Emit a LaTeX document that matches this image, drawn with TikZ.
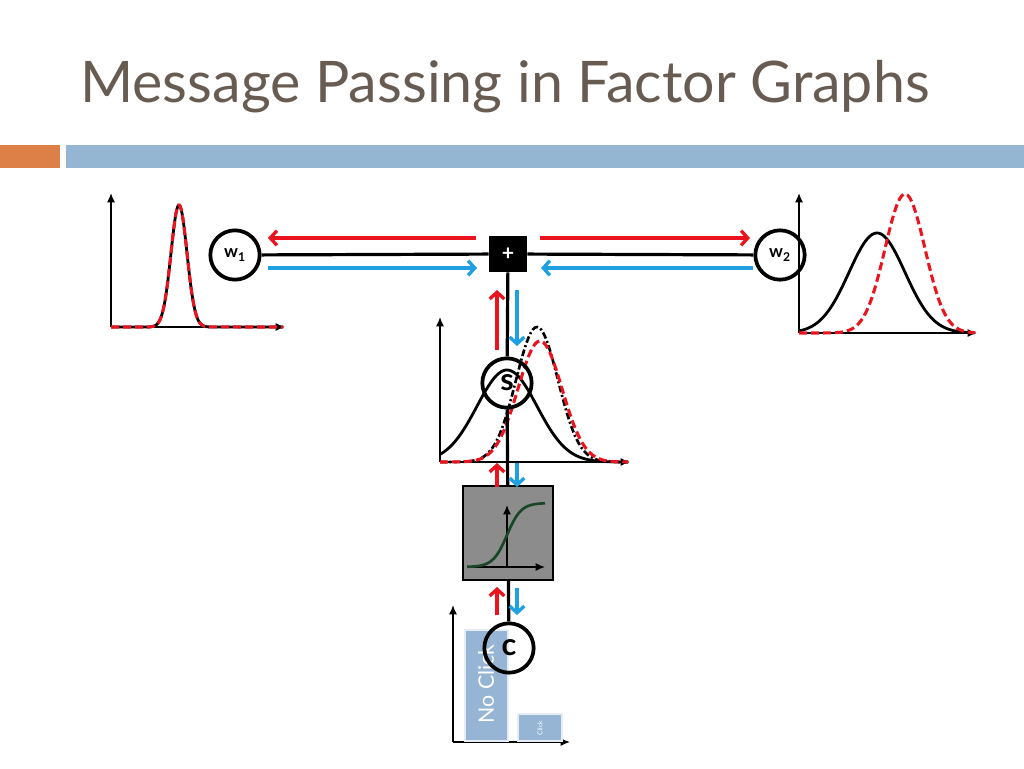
\documentclass[tikz,border=0pt]{standalone}
\usepackage{fontspec}
\setmainfont{Lato}
\usetikzlibrary{arrows.meta}
\definecolor{titlec}{RGB}{104,92,82}
\definecolor{barorange}{RGB}{221,128,71}
\definecolor{barblue}{RGB}{148,182,210}
\definecolor{msgred}{RGB}{235,20,30}
\definecolor{msgblue}{RGB}{30,160,225}
\definecolor{sigg}{RGB}{25,70,40}
\definecolor{boxgray}{RGB}{140,140,140}
\definecolor{barfill}{RGB}{150,180,212}
\tikzset{
  varnode/.style={circle,draw=black,line width=2.8pt,minimum size=37pt,inner sep=0pt,font=\bfseries},
  wvar/.style={varnode,font=\bfseries\fontsize{13}{13}\selectfont},
  bigvar/.style={varnode,font=\bfseries\fontsize{23}{23}\selectfont},
  wire/.style={line width=2.4pt},
  msgr/.style={draw=msgred,line width=2.5pt,-{Straight Barb[length=5pt,width=11pt]}},
  msgb/.style={draw=msgblue,line width=2.5pt,-{Straight Barb[length=5pt,width=11pt]}},
  axis/.style={line width=1.1pt,-{Latex[length=7pt,width=6pt]}},
  solidcurve/.style={line width=2.1pt,black},
  reddash/.style={line width=2.3pt,msgred,dash pattern=on 6pt off 3pt},
  dashdot/.style={line width=2pt,black,dash pattern=on 5pt off 2pt on 1.5pt off 2pt},
  barrect/.style={fill=barfill,draw=white!75!barfill,line width=1pt}
}
\begin{document}
\begin{tikzpicture}[x=0.75pt,y=-0.75pt]
\useasboundingbox (0,0) rectangle (1024,768);
\fill[white] (0,0) rectangle (1024,768);
% title and header bars
\node[anchor=base west,inner sep=0pt,text=titlec,font=\fontsize{43}{50}\selectfont] (title) at (80,102) {Message Passing in Factor Graphs};
\fill[barorange] (0,145) rectangle (60,168);
\fill[barblue] (66,145) rectangle (1024,168);

% ---------- left plot (w1) ----------
\draw[axis] (111,327) -- (111,193);
\draw[axis] (111,327) -- (285,327);
\draw[solidcurve] (111,327) -- (148,327) -- plot[domain=148:210,samples=70] (\x,{327-122*exp(-0.5*((\x-179)/8)^2)}) -- (283,327);
\draw[reddash] (111,327) -- (148,327) -- plot[domain=148:210,samples=70] (\x,{327-122*exp(-0.5*((\x-179)/8)^2)}) -- (283,327);

% ---------- right plot (w2) ----------
\draw[axis] (799,333) -- (799,193);
\draw[axis] (799,333) -- (977,333);
\draw[solidcurve] plot[domain=799:975,samples=90] (\x,{333-100*exp(-0.5*((\x-877)/28)^2)});
\draw[reddash] plot[domain=799:975,samples=90] (\x,{333-139*exp(-0.5*((\x-905)/20)^2)});

% ---------- middle plot (s) ----------
\draw[axis] (440,462) -- (440,317);
\draw[axis] (440,462) -- (630,462);
\draw[solidcurve] plot[domain=440:628,samples=90] (\x,{462-92*exp(-0.5*((\x-507)/30)^2)});
\draw[dashdot] plot[domain=440:628,samples=90] (\x,{462-135*exp(-0.5*((\x-537)/21)^2)});
\draw[reddash] plot[domain=440:628,samples=90] (\x,{462-121*exp(-0.5*((\x-540)/22)^2)});

% ---------- bar chart (c) ----------
\draw[axis] (453,742) -- (453,605);
\draw[axis] (453,742) -- (570,742);
\draw[barrect] (465,630) rectangle (508,741);
\draw[barrect] (518,714) rectangle (562,741);
\node[rotate=90,text=white,font=\fontsize{16}{16}\selectfont,inner sep=0pt] (noclick) at (486,684) {No Click};
\node[rotate=90,text=white,font=\fontsize{5}{5}\selectfont,inner sep=0pt] (click) at (540,728) {Click};

% ---------- nodes ----------
\node[wvar] (w1) at (235,255) {w\textsubscript{1}};
\node[wvar] (w2) at (780,255) {w\textsubscript{2}};
\node[fill=black,text=white,minimum width=28.5pt,minimum height=27pt,inner sep=0pt,font=\bfseries\fontsize{16}{16}\selectfont] (plus) at (508,254) {+};
\node[bigvar] (s) at (507,383) {s};
\node[draw=black,line width=1.6pt,fill=boxgray,minimum width=67.5pt,minimum height=70.5pt,inner sep=0pt] (sig) at (508,533) {};
\node[bigvar] (c) at (509,648) {c};

% sigmoid inside the box
\draw[axis] (507,567) -- (507,505);
\draw[axis] (467,567) -- (545,567);
\draw[line width=2pt,sigg] plot[domain=467:545,samples=60] (\x,{567-64/(1+exp(-(\x-507)/7))});

% ---------- wires ----------
\draw[wire] (w1) -- (plus);
\draw[wire] (plus) -- (w2);
\draw[wire] (plus) -- (s);
\draw[wire] (s) -- (sig);
\draw[wire] (sig) -- (c);

% ---------- messages ----------
\coordinate (r1a) at (476,238); \coordinate (r1b) at (268,238);
\coordinate (r2a) at (540,238); \coordinate (r2b) at (750,238);
\coordinate (b1a) at (268,268); \coordinate (b1b) at (477,268);
\coordinate (b2a) at (753,268); \coordinate (b2b) at (541,268);
\draw[msgr] (r1a) -- (r1b);
\draw[msgr] (r2a) -- (r2b);
\draw[msgb] (b1a) -- (b1b);
\draw[msgb] (b2a) -- (b2b);

\coordinate (vr1a) at (497,350); \coordinate (vr1b) at (497,290);
\coordinate (vb1a) at (517,290); \coordinate (vb1b) at (517,346);
\draw[msgr] (vr1a) -- (vr1b);
\draw[msgb] (vb1a) -- (vb1b);

\coordinate (vr2a) at (497,487); \coordinate (vr2b) at (497,463);
\coordinate (vb2a) at (517,463); \coordinate (vb2b) at (517,487);
\draw[msgr] (vr2a) -- (vr2b);
\draw[msgb] (vb2a) -- (vb2b);

\coordinate (vr3a) at (497,615); \coordinate (vr3b) at (497,587);
\coordinate (vb3a) at (517,588); \coordinate (vb3b) at (517,615);
\draw[msgr] (vr3a) -- (vr3b);
\draw[msgb] (vb3a) -- (vb3b);
\end{tikzpicture}
\end{document}
